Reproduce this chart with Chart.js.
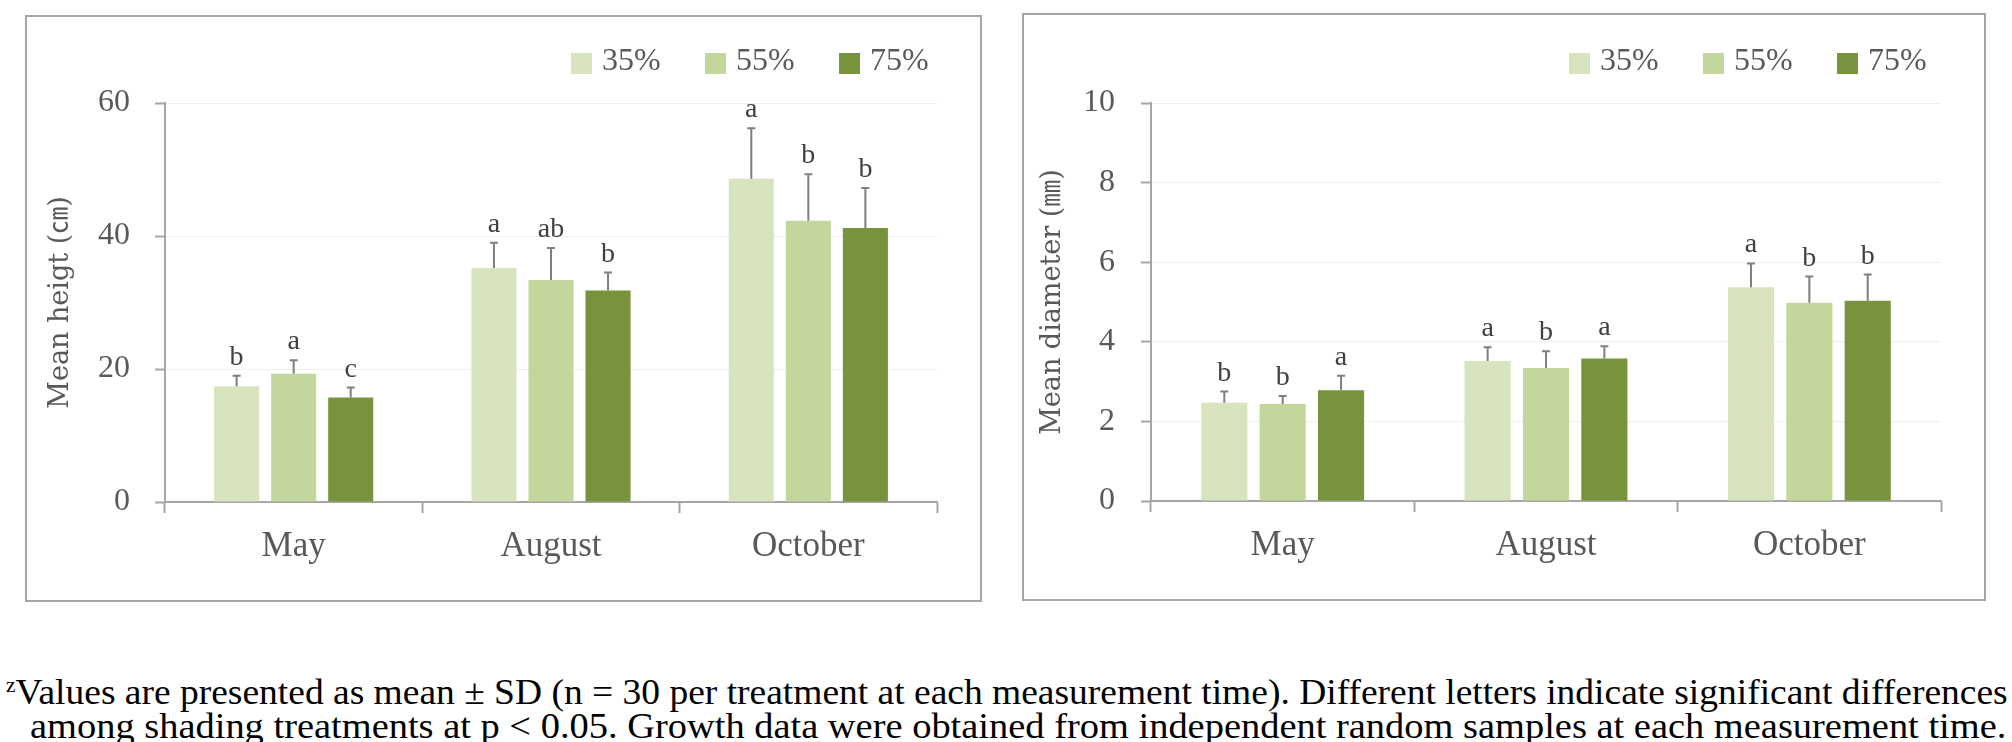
<!DOCTYPE html>
<html>
<head>
<meta charset="utf-8">
<script src="https://cdn.jsdelivr.net/npm/chart.js@4.4.0/dist/chart.umd.min.js"></script>
<style>
  body { margin: 0; width: 2012px; height: 742px; background: #fff; position: relative; overflow: hidden; font-family: "Liberation Serif", serif; }
  .panel { position: absolute; border: 2px solid #a6a6a6; box-sizing: border-box; }
  .panel canvas { position: absolute; left: 0; top: 0; }
  .legend { position: absolute; top: 43px; display: flex; }
  .legend-item { width: 134px; display: flex; align-items: flex-start; }
  .legend-box { width: 21px; height: 21px; margin-top: 10px; margin-right: 10px; }
  .legend-text { font-size: 32px; line-height: 32px; color: #595959; }
  .note { position: absolute; font-size: 35px; line-height: 36px; color: #000; white-space: nowrap; transform-origin: left top; }
  .note sup { font-size: 20px; vertical-align: 12px; line-height: 0; }
</style>
</head>
<body>

<div class="panel" style="left:25px; top:15px; width:957px; height:587px;">
  <canvas id="heightChart" width="953" height="583"></canvas>
</div>
<div class="legend" id="legend-height" style="left:571px;"></div>

<div class="panel" style="left:1022px; top:13px; width:964px; height:588px;">
  <canvas id="diameterChart" width="960" height="584"></canvas>
</div>
<div class="legend" id="legend-diameter" style="left:1569px;"></div>

<div class="note" data-width="2002" style="left:6px; top:675px;"><sup>z</sup>Values are presented as mean ± SD (n = 30 per treatment at each measurement time). Different letters indicate significant differences</div>
<div class="note" data-width="1976" style="left:30px; top:709px;">among shading treatments at p &lt; 0.05. Growth data were obtained from independent random samples at each measurement time.</div>

<script>
// categories and treatments
const months = ['May', 'August', 'October'];
const treatments = ['35%', '55%', '75%'];
const colors = ['#D7E4BD', '#C3D69B', '#77933C'];

// mean height (cm)
const height35 = [17.4, 35.2, 48.6];
const height55 = [19.3, 33.4, 42.3];
const height75 = [15.7, 31.8, 41.2];
const heightSd35 = [1.6, 3.8, 7.6];
const heightSd55 = [2.0, 4.8, 7.0];
const heightSd75 = [1.5, 2.7, 6.0];
const heightLetters35 = ['b', 'a', 'a'];
const heightLetters55 = ['a', 'ab', 'b'];
const heightLetters75 = ['c', 'b', 'b'];

// mean diameter (mm)
const diameter35 = [2.47, 3.52, 5.37];
const diameter55 = [2.44, 3.34, 4.98];
const diameter75 = [2.78, 3.58, 5.03];
const diameterSd35 = [0.28, 0.34, 0.60];
const diameterSd55 = [0.20, 0.42, 0.66];
const diameterSd75 = [0.37, 0.31, 0.66];
const diameterLetters35 = ['b', 'a', 'a'];
const diameterLetters55 = ['b', 'b', 'b'];
const diameterLetters75 = ['a', 'a', 'b'];

// y axis ticks
const heightTicks = [0, 20, 40, 60];
const diameterTicks = [0, 2, 4, 6, 8, 10];

const axisGray = '#a6a6a6';
const textGray = '#595959';

// legend in html, same as the series
function generateLegend(id) {
    const container = document.getElementById(id);
    container.innerHTML = '';
    treatments.forEach((t, i) => {
        const div = document.createElement('div');
        div.className = 'legend-item';
        div.innerHTML = `<div class="legend-box" style="background:${colors[i]}"></div><span class="legend-text">${t}</span>`;
        container.appendChild(div);
    });
}

// footnote lines are fitted to the full width like the original
function fitNotes() {
    document.querySelectorAll('.note').forEach(el => {
        const target = parseFloat(el.dataset.width);
        el.style.transform = `scaleX(${target / el.offsetWidth})`;
    });
}

// draws the +SD whisker and the letter above it
const errorBarPlugin = {
    id: 'errorBars',
    afterDatasetsDraw(chart) {
        const ctx = chart.ctx;
        const yScale = chart.scales.y;
        chart.data.datasets.forEach((ds, i) => {
            const meta = chart.getDatasetMeta(i);
            meta.data.forEach((bar, j) => {
                const top = yScale.getPixelForValue(ds.data[j] + ds.sd[j]);
                ctx.save();
                ctx.strokeStyle = '#7f7f7f';
                ctx.lineWidth = 2;
                ctx.beginPath();
                ctx.moveTo(bar.x, bar.y);
                ctx.lineTo(bar.x, top);
                ctx.moveTo(bar.x - 4, top);
                ctx.lineTo(bar.x + 4, top);
                ctx.stroke();
                ctx.fillStyle = '#404040';
                ctx.font = '28px "Liberation Serif"';
                ctx.textAlign = 'center';
                ctx.textBaseline = 'alphabetic';
                ctx.fillText(ds.letters[j], bar.x, top - 11);
                ctx.restore();
            });
        });
    }
};

function makeChart(canvasId, title, series, sds, letters, ticks, box) {
    const ctx = document.getElementById(canvasId).getContext('2d');
    return new Chart(ctx, {
        type: 'bar',
        data: {
            labels: months,
            datasets: treatments.map((t, i) => ({
                label: t,
                data: series[i],
                sd: sds[i],
                letters: letters[i],
                backgroundColor: colors[i],
                borderWidth: 0,
                categoryPercentage: 0.665,
                barPercentage: 0.79
            }))
        },
        options: {
            responsive: false,
            animation: false,
            layout: { padding: { top: box.top, right: box.right, left: 0, bottom: 0 } },
            plugins: {
                legend: { display: false },
                tooltip: { enabled: false }
            },
            scales: {
                x: {
                    grid: { display: true, drawOnChartArea: false, drawTicks: true, tickLength: 11, tickColor: axisGray, tickWidth: 2, offset: true },
                    border: { display: true, color: axisGray, width: 2 },
                    ticks: { color: textGray, padding: 13, font: { family: '"Liberation Serif"', size: 35 } },
                    afterFit: (scale) => { scale.height = box.bottom; }
                },
                y: {
                    min: ticks[0],
                    max: ticks[ticks.length - 1],
                    afterBuildTicks: (scale) => { scale.ticks = ticks.map(v => ({ value: v })); },
                    grid: { color: '#efefef', lineWidth: 1, drawTicks: true, tickLength: 10, tickColor: axisGray, tickWidth: 2 },
                    border: { display: true, color: axisGray, width: 2 },
                    ticks: { color: textGray, padding: box.tickPad, font: { family: '"Liberation Serif"', size: 32 } },
                    title: {
                        display: true,
                        text: title,
                        color: textGray,
                        padding: { top: box.titlePad, bottom: 0 },
                        font: { family: '"DejaVu Serif", "Noto Sans CJK KR"', size: 27 }
                    },
                    afterFit: (scale) => { scale.width = box.left; }
                }
            }
        },
        plugins: [errorBarPlugin]
    });
}

document.addEventListener('DOMContentLoaded', () => {
    generateLegend('legend-height');
    generateLegend('legend-diameter');
    fitNotes();

    window.heightChart = makeChart('heightChart', 'Mean heigt (㎝)',
        [height35, height55, height75],
        [heightSd35, heightSd55, heightSd75],
        [heightLetters35, heightLetters55, heightLetters75],
        heightTicks,
        { top: 86, right: 43, bottom: 98, left: 138, tickPad: 25, titlePad: 18 });

    window.diameterChart = makeChart('diameterChart', 'Mean diameter (㎜)',
        [diameter35, diameter55, diameter75],
        [diameterSd35, diameterSd55, diameterSd75],
        [diameterLetters35, diameterLetters55, diameterLetters75],
        diameterTicks,
        { top: 88, right: 43, bottom: 98, left: 127, tickPad: 26, titlePad: 13 });
});
</script>
</body>
</html>
